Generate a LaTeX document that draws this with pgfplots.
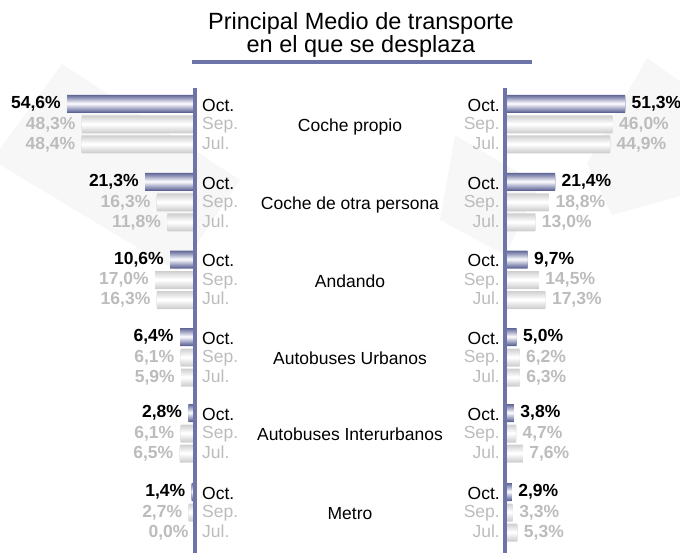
\documentclass[border=0pt]{standalone}
\usepackage{pgfplots}
\usepackage{pgfplotstable}
\pgfplotsset{compat=1.18}
\usepackage{fontspec}
\setmainfont{Liberation Sans}
\definecolor{axblue}{HTML}{6C74A8}
\definecolor{octdark}{HTML}{5E6596}
\definecolor{octlight}{HTML}{F4F4FA}
\definecolor{grayA}{HTML}{CFCFCF}
\definecolor{lbl}{HTML}{BCBCBC}
\definecolor{bgc}{HTML}{F7F7F7}
\pgfkeys{/pgf/number format/assume math mode=true}
\newcommand\valfont{\fontsize{17.5}{17.5}\selectfont\bfseries}
\newcommand\lblfont{\fontsize{17.5}{17.5}\selectfont}
\newcommand\valtext{\pgfmathprintnumber[fixed,fixed zerofill,precision=1,use comma]{\pgfplotspointmeta}\%}

\pgfplotstableread{
yo    oct  ys     sep  yj     jul
104   54.6 124.5  48.3 144.5  48.4
182   21.3 202.5  16.3 222.5  11.8
259.5 10.6 280    17.0 300    16.3
337   6.4  357.5  6.1  377.5  5.9
413   2.8  433.5  6.1  453.5  6.5
492   1.4  512.5  2.7  532.5  0.0
}\lefttab
\pgfplotstableread{
yo    oct  ys     sep  yj     jul
104   51.3 124.5  46.0 144.5  44.9
182   21.4 202.5  18.8 222.5  13.0
259.5 9.7  280    14.5 300    17.3
337   5.0  357.5  6.2  377.5  6.3
413   3.8  433.5  4.7  453.5  7.6
492   2.9  512.5  3.3  532.5  5.3
}\righttab

\pgfplotsset{
  basebar/.style={xbar, bar shift=0pt, draw=none, forget plot},
  sideaxis/.style={scale only axis, height=556pt, ymin=0, ymax=556, y dir=reverse,
    xmin=0, hide axis, clip=false},
}
% #1 table, #2 x column, #3 y column, #4 dark colour, #5 light colour, #6 label colour, #7 anchor, #8 xshift
\newcommand\shadedbars[8]{%
  \addplot[basebar, bar width=18pt, fill=#4, point meta=x, nodes near coords={\valtext},
    every node near coord/.append style={font=\valfont, text=#6, anchor=#7, xshift=#8}]
    table[x=#2, y=#3]{#1};
  \pgfplotsinvokeforeach{1,...,8}{%
    \addplot[basebar, bar width=\the\dimexpr 18pt-2pt*##1\relax,
      fill={#5!\the\numexpr ##1*125/10\relax!#4}]
      table[x=#2, y=#3]{#1};
  }%
}

\begin{document}
\begin{tikzpicture}
\path[use as bounding box] (0pt,0pt) rectangle (680pt,556pt);
\begin{scope}[x=1pt,y=-1pt,shift={(0pt,556pt)}]
  % faint background shapes
  \fill[bgc] (62,64) -- (240,180) -- (178,272) -- (-8,160) -- cycle;
  \fill[bgc] (647,58) -- (720,110) -- (720,185) -- (612,215) -- (587,163) -- cycle;
  \fill[bgc] (455,135) -- (540,185) -- (505,255) -- (440,220) -- cycle;
\end{scope}

\begin{axis}[sideaxis, at={(0pt,0pt)}, anchor=south west, width=195pt,
  xmax=83.33, x dir=reverse]
  \shadedbars{\lefttab}{jul}{yj}{grayA}{white}{lbl}{east}{-3pt}
  \shadedbars{\lefttab}{sep}{ys}{grayA}{white}{lbl}{east}{-3pt}
  \shadedbars{\lefttab}{oct}{yo}{octdark}{octlight}{black}{east}{-3pt}
\end{axis}

\begin{axis}[sideaxis, at={(505pt,0pt)}, anchor=south west, width=175pt,
  xmax=74.79]
  \shadedbars{\righttab}{jul}{yj}{grayA}{white}{lbl}{west}{3pt}
  \shadedbars{\righttab}{sep}{ys}{grayA}{white}{lbl}{west}{3pt}
  \shadedbars{\righttab}{oct}{yo}{octdark}{octlight}{black}{west}{3pt}
\end{axis}

\begin{scope}[x=1pt,y=-1pt,shift={(0pt,556pt)}]
  % title
  \node[anchor=north, inner sep=0pt, align=center, font=\fontsize{23.5}{20.5}\selectfont]
    at (361,12) {Principal Medio de transporte\\en el que se desplaza};
  \draw[axblue, line width=4pt] (192,62) -- (532,62);
  % axis lines
  \draw[axblue, line width=3.5pt] (195,88) -- (195,553);
  \draw[axblue, line width=3.5pt] (505,88) -- (505,553);
  % period labels and categories
  \foreach \yo/\cat in {104/Coche propio, 182/Coche de otra persona, 259.5/Andando,
      337/Autobuses Urbanos, 413/Autobuses Interurbanos, 492/Metro}{
    \node[anchor=base west, inner sep=0pt, font=\lblfont, text=black] at (202,\yo+7.5) {Oct.};
    \node[anchor=base west, inner sep=0pt, font=\lblfont, text=lbl] at (202,\yo+26) {Sep.};
    \node[anchor=base west, inner sep=0pt, font=\lblfont, text=lbl] at (202,\yo+45.5) {Jul.};
    \node[anchor=base east, inner sep=0pt, font=\lblfont, text=black] at (500,\yo+7.5) {Oct.};
    \node[anchor=base east, inner sep=0pt, font=\lblfont, text=lbl] at (500,\yo+26) {Sep.};
    \node[anchor=base east, inner sep=0pt, font=\lblfont, text=lbl] at (500,\yo+45.5) {Jul.};
    \node[anchor=base, inner sep=0pt, font=\lblfont, text=black] at (350,\yo+28) {\cat};
  }
\end{scope}
\end{tikzpicture}
\end{document}
